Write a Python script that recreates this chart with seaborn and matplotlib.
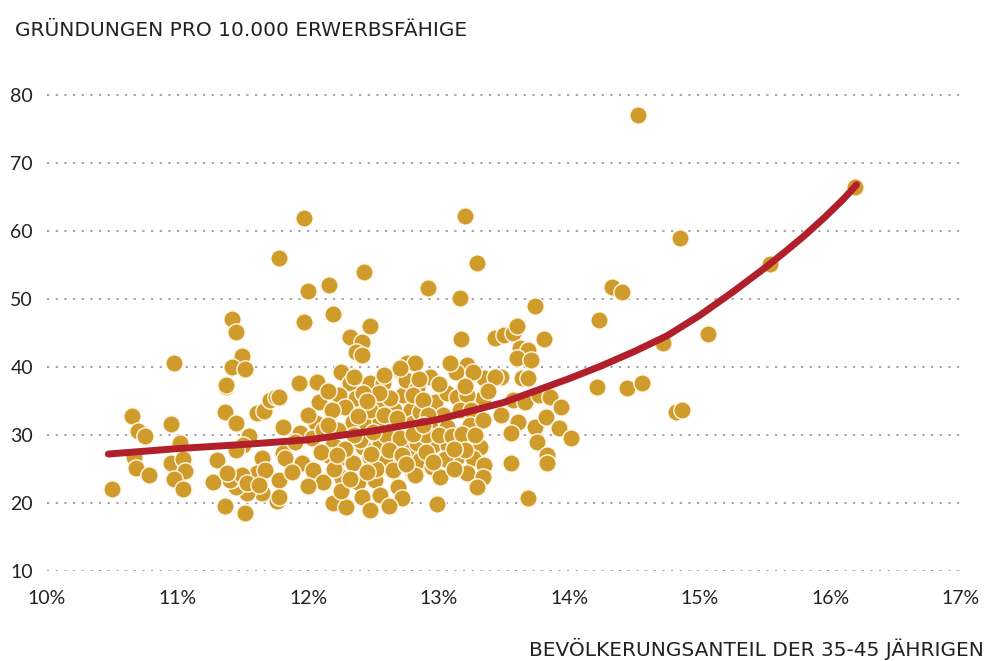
import matplotlib
matplotlib.use("Agg")
import matplotlib.pyplot as plt
import pandas as pd
import seaborn as sns

# Streudiagramm: Anteil der 35-45-Jährigen vs. Gründungen pro 10.000 Erwerbsfähige
anteil = [
    # Ausreisser rechts
    14.53, 16.19, 14.85, 15.54, 14.33, 14.40, 14.23, 15.06, 14.72, 14.21, 14.44, 14.56, 14.82, 14.86,
    # oberer Bereich
    11.97, 13.20, 11.78, 12.43, 13.29, 12.00, 12.16, 12.92, 13.16, 11.97, 12.19, 12.47, 13.74, 12.32,
    12.41, 13.17, 13.43, 13.50, 13.57, 13.60, 13.81, 12.37, 12.41,
    # links
    11.42, 11.45, 10.97, 11.49, 11.42, 11.52, 11.37, 11.37, 11.36, 11.45, 10.65, 10.70, 10.75, 10.95,
    11.02, 10.67, 10.68, 10.78, 10.50, 10.95, 11.04, 11.06, 10.97, 11.04, 11.30, 11.27, 11.36, 11.52,
    11.61, 11.66, 11.71, 11.75, 11.81, 11.81, 11.55, 11.50, 11.45, 11.65, 11.61, 11.67, 11.78, 11.76,
    11.65, 11.53, 11.45, 11.42, 11.40, 11.49, 11.53, 11.38, 11.62, 11.78,
    # rechts vom Kern
    13.62, 13.68, 13.60, 13.71, 13.35, 13.48, 13.43, 13.64, 13.68, 13.34, 13.57, 13.66, 13.77, 13.85,
    13.48, 13.61, 13.74, 13.82, 13.94, 13.55, 13.92, 14.01, 13.75, 13.83, 13.83, 13.55, 13.68,
    # Kern 1
    12.25, 11.93, 12.07, 12.08, 12.32, 12.47, 12.57, 12.24, 12.37, 12.28, 12.55, 12.66, 12.73, 12.79,
    12.76, 12.70, 12.75, 12.18, 11.78, 12.06, 11.94, 12.34, 12.44, 12.55, 12.65, 12.80, 12.03, 12.19,
    12.42, 12.55, 12.78, 12.17, 12.30, 12.47, 12.65, 11.95, 12.04, 12.34, 12.59, 12.80, 12.11, 12.26,
    12.38, 12.51, 12.69, 12.41, 12.19, 12.29, 12.47, 12.72, 11.82, 12.11, 12.40, 12.23, 12.47, 12.63,
    12.54, 12.83, 12.42,
    # Kern 2
    12.82, 13.10, 13.22, 12.93, 13.13, 13.26, 12.80, 12.97, 13.06, 13.14, 13.22, 12.86, 13.03, 13.16,
    13.25, 12.93, 13.06, 13.24, 13.34, 12.83, 12.96, 13.07, 13.32, 12.86, 13.14, 13.26, 13.35, 12.95,
    12.82, 13.01, 13.22, 13.34, 13.29, 12.99, 12.70, 13.09,
    # Kern 3 (dichte Mitte)
    12.45, 12.60, 12.70, 12.35, 12.50, 12.90, 12.88, 12.62, 12.72, 12.28, 12.15, 12.00, 12.10, 12.52,
    12.65, 12.45, 12.20, 12.75, 12.90, 13.00, 13.10, 13.18, 13.20, 13.05, 13.12, 12.92, 13.00, 13.20,
    13.38, 13.28, 12.58, 12.85, 12.35, 12.15, 11.90, 11.88, 12.00, 12.25, 12.55, 12.62,
    12.38, 12.58, 12.80, 12.96, 12.48, 12.68, 12.22, 13.12, 12.88, 12.32,
]
gruendungen = [
    77.1, 66.5, 59.0, 55.1, 51.8, 51.0, 46.9, 44.9, 43.5, 37.1, 36.9, 37.6, 33.4, 33.7,
    61.9, 62.2, 56.0, 54.0, 55.3, 51.2, 52.1, 51.6, 50.1, 46.6, 47.8, 46.0, 49.0, 44.4,
    43.7, 44.1, 44.3, 44.7, 45.0, 46.0, 44.1, 42.2, 41.8,
    47.1, 45.1, 40.6, 41.6, 40.0, 39.7, 37.1, 37.4, 33.4, 31.8, 32.8, 30.6, 29.9, 31.6,
    28.8, 26.8, 25.1, 24.1, 22.1, 25.9, 26.5, 24.7, 23.5, 22.1, 26.3, 23.1, 19.6, 18.5,
    33.2, 33.5, 35.1, 35.6, 31.2, 27.4, 29.9, 28.5, 27.8, 26.6, 24.4, 24.9, 23.4, 20.3,
    21.5, 21.5, 22.4, 23.5, 23.4, 24.1, 22.9, 24.4, 22.6, 20.9,
    42.8, 42.5, 41.3, 41.0, 38.4, 38.5, 38.5, 38.4, 38.4, 35.4, 35.1, 34.9, 35.9, 35.6,
    32.9, 31.9, 31.2, 32.6, 34.1, 30.3, 31.0, 29.6, 29.0, 27.1, 25.9, 25.9, 20.7,
    39.3, 37.6, 37.8, 34.9, 37.6, 37.6, 37.6, 35.9, 35.4, 34.1, 34.7, 33.7, 35.9, 33.7,
    40.6, 39.6, 38.1, 33.7, 35.6, 31.8, 30.3, 31.9, 31.8, 32.2, 31.2, 31.8, 29.6, 28.5,
    28.2, 28.5, 28.1, 26.9, 26.6, 26.8, 26.6, 25.9, 24.9, 25.9, 26.0, 24.4, 23.1, 23.7,
    23.1, 23.4, 22.4, 20.9, 20.0, 19.4, 19.0, 20.7, 26.6, 30.7, 29.3, 30.7, 33.7, 35.4,
    36.2, 36.9, 36.2,
    40.6, 40.3, 40.3, 38.5, 39.3, 39.3, 35.9, 34.9, 36.2, 35.6, 35.9, 33.4, 32.9, 33.7,
    33.7, 31.2, 31.2, 31.5, 32.2, 28.8, 28.5, 28.5, 28.2, 26.3, 26.8, 26.6, 25.6, 25.3,
    24.1, 23.8, 24.4, 23.8, 22.4, 19.9, 39.9, 40.6,
    35.0, 30.0, 29.5, 30.0, 30.5, 30.0, 35.2, 27.8, 27.0, 28.0, 31.5, 33.0, 27.5, 25.0,
    24.8, 24.5, 25.0, 25.8, 27.5, 30.0, 29.8, 30.2, 27.8, 26.5, 25.0, 33.0, 37.5, 37.2,
    36.5, 30.0, 38.8, 38.3, 38.5, 36.5, 29.0, 24.5, 22.5, 21.8, 21.2, 19.5,
    32.8, 33.0, 30.2, 26.0, 27.2, 32.5, 27.0, 28.0, 31.5, 23.5,
]

# Trendkurve
kurve_x = [10.47, 11.0, 11.5, 12.0, 12.5, 13.0, 13.5, 14.0, 14.25, 14.5, 14.75, 15.0, 15.25,
           15.5, 15.65, 15.8, 15.95, 16.1, 16.2]
kurve_y = [27.2, 28.0, 28.6, 29.3, 30.6, 32.3, 34.8, 38.3, 40.2, 42.3, 44.6, 47.6, 51.0,
           54.6, 56.9, 59.3, 61.9, 64.7, 66.8]

x_ticks = [10, 11, 12, 13, 14, 15, 16, 17]
x_labels = ["10%", "11%", "12%", "13%", "14%", "15%", "16%", "17%"]
y_ticks = [10, 20, 30, 40, 50, 60, 70, 80]

df = pd.DataFrame({"anteil": anteil, "gruendungen": gruendungen})
df_kurve = pd.DataFrame({"x": kurve_x, "y": kurve_y})

sns.set_style("white")
plt.rcParams['font.family'] = ['Lato', 'DejaVu Sans']

fig = plt.figure(figsize=(9.87, 6.61), dpi=100)
ax = fig.add_axes([47 / 987, 90 / 661, 914 / 987, 489.6 / 661])

sns.scatterplot(data=df, x="anteil", y="gruendungen", ax=ax, s=155,
                color="#cf9c2c", edgecolor="#fff8ea", linewidth=1.0, zorder=3)
sns.lineplot(data=df_kurve, x="x", y="y", ax=ax, color="#b01f2a",
             linewidth=5.0, zorder=4, solid_capstyle="round", sort=False)

ax.set_xlim(10, 17)
ax.set_ylim(10, 82)
ax.set_xticks(x_ticks)
ax.set_xticklabels(x_labels)
ax.set_yticks(y_ticks)
ax.set_xlabel("")
ax.set_ylabel("")

for s in ax.spines.values():
    s.set_visible(False)

ax.grid(axis="y", color="#9a9a9a", linestyle=(0, (1.2, 3.6)), linewidth=1.3)
ax.grid(axis="x", visible=False)
ax.set_axisbelow(True)

ax.tick_params(axis="x", length=9, width=1, color="#333333", pad=5,
               labelsize=14, labelcolor="#222222")
ax.tick_params(axis="y", length=0, pad=10, labelsize=14, labelcolor="#222222")

fig.text(15 / 987, 1 - 30 / 661, "GRÜNDUNGEN PRO 10.000 ERWERBSFÄHIGE",
         fontsize=14.5, color="#222222", va="center", ha="left",
         family=["DejaVu Sans"])
fig.text(984 / 987, 1 - 649 / 661, "BEVÖLKERUNGSANTEIL DER 35-45 JÄHRIGEN",
         fontsize=14.5, color="#222222", va="center", ha="right",
         family=["DejaVu Sans"])

fig.savefig("out.png", dpi=100)
